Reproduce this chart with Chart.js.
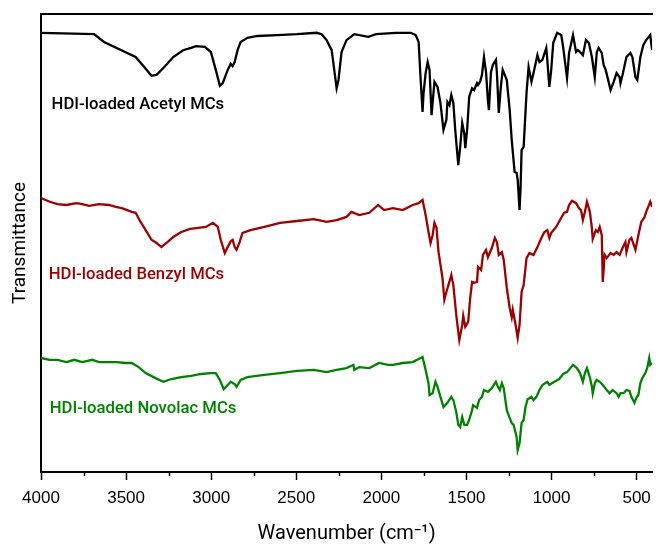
<!DOCTYPE html>
<html>
<head>
<meta charset="utf-8">
<script src="https://cdn.jsdelivr.net/npm/chart.js@4/dist/chart.umd.min.js"></script>
<style>
  html, body { margin: 0; padding: 0; background: #fff; }
  #wrap { width: 659px; height: 544px; }
</style>
</head>
<body>
<div id="wrap"><canvas id="chart" width="659" height="544"></canvas></div>
<script>
// FTIR spectra, wavenumber (cm-1) vs transmittance (arbitrary units, offset for stacking)
const acetylWn = [4000, 3688, 3630, 3444, 3397, 3351, 3321, 3281, 3223, 3165, 3118, 3089, 3037, 3002, 2973, 2949, 2932, 2903, 2885, 2874, 2862, 2845, 2827, 2787, 2728, 2612, 2496, 2380, 2351, 2322, 2292, 2263, 2252, 2234, 2205, 2159, 2077, 2031, 1914, 1827, 1798, 1781, 1769, 1758, 1752, 1740, 1728, 1717, 1705, 1699, 1688, 1670, 1653, 1635, 1618, 1612, 1600, 1589, 1577, 1566, 1548, 1537, 1525, 1513, 1507, 1496, 1484, 1467, 1455, 1438, 1432, 1420, 1409, 1397, 1385, 1374, 1368, 1356, 1345, 1327, 1321, 1310, 1298, 1287, 1275, 1263, 1246, 1234, 1217, 1205, 1199, 1188, 1182, 1176, 1164, 1147, 1135, 1118, 1106, 1083, 1071, 1054, 1031, 1025, 1013, 1002, 990, 967, 943, 932, 909, 897, 874, 856, 845, 827, 816, 798, 781, 763, 746, 734, 723, 705, 694, 682, 670, 653, 635, 618, 600, 595, 583, 560, 537, 525, 507, 496, 478, 461, 444, 420, 409];
const acetylT = [95.9, 95.6, 93.9, 90.6, 88.6, 86.5, 86.7, 88.2, 90.6, 92.1, 92.6, 93.0, 92.8, 91.7, 87.8, 84.3, 84.9, 87.8, 89.1, 88.6, 89.5, 92.1, 93.9, 94.8, 95.2, 95.4, 95.6, 95.9, 95.6, 94.3, 92.1, 83.8, 85.6, 91.7, 94.3, 95.6, 95.0, 95.6, 95.9, 95.9, 95.4, 93.9, 85.6, 78.6, 82.8, 87.1, 89.5, 87.8, 77.9, 80.6, 85.2, 84.1, 80.6, 74.7, 76.9, 80.8, 80.1, 82.3, 80.6, 74.7, 67.0, 71.0, 76.2, 74.0, 70.7, 74.7, 81.9, 83.8, 83.4, 84.9, 84.5, 85.2, 86.7, 90.6, 87.3, 81.2, 79.0, 87.3, 88.9, 90.0, 87.1, 78.4, 84.1, 87.8, 86.7, 85.6, 79.0, 72.5, 65.5, 65.3, 63.8, 57.2, 62.2, 70.3, 71.0, 82.8, 88.4, 85.2, 87.1, 91.0, 89.5, 90.0, 92.6, 90.0, 84.1, 87.8, 93.7, 95.9, 95.4, 92.8, 86.0, 91.5, 95.4, 91.7, 92.1, 91.5, 91.0, 94.3, 93.7, 90.6, 86.2, 91.7, 92.6, 91.5, 88.9, 87.8, 86.0, 83.4, 85.2, 87.1, 86.2, 84.9, 86.7, 90.6, 91.5, 90.6, 86.2, 85.6, 90.6, 93.2, 94.3, 95.4, 92.1];

const benzylWn = [4000, 3949, 3903, 3851, 3792, 3758, 3717, 3659, 3601, 3560, 3525, 3467, 3444, 3415, 3385, 3351, 3321, 3292, 3263, 3223, 3176, 3124, 3077, 3031, 2990, 2961, 2944, 2920, 2903, 2885, 2874, 2862, 2851, 2833, 2816, 2769, 2688, 2595, 2496, 2397, 2322, 2263, 2205, 2176, 2130, 2071, 2019, 1984, 1932, 1874, 1816, 1781, 1758, 1740, 1723, 1711, 1699, 1688, 1676, 1664, 1641, 1630, 1618, 1606, 1589, 1577, 1560, 1548, 1542, 1525, 1519, 1507, 1490, 1478, 1467, 1455, 1438, 1432, 1414, 1403, 1385, 1374, 1351, 1333, 1321, 1310, 1292, 1281, 1263, 1246, 1234, 1228, 1211, 1199, 1188, 1176, 1164, 1147, 1130, 1106, 1083, 1060, 1042, 1025, 1013, 1002, 973, 943, 926, 909, 897, 880, 856, 839, 827, 816, 804, 792, 775, 763, 758, 740, 728, 717, 705, 699, 688, 676, 653, 635, 618, 600, 583, 566, 560, 542, 531, 507, 490, 473, 455, 444, 420, 409];
const benzylT = [59.8, 59.0, 58.5, 58.3, 58.7, 58.5, 58.1, 58.5, 58.3, 57.9, 57.6, 56.8, 56.6, 54.6, 52.8, 50.7, 50.0, 49.1, 50.0, 51.3, 52.4, 53.1, 53.3, 53.5, 54.4, 53.5, 50.7, 47.8, 49.1, 50.4, 50.7, 49.1, 48.5, 50.2, 52.2, 52.8, 53.5, 54.4, 54.8, 55.2, 54.6, 55.0, 55.7, 56.8, 56.1, 56.6, 58.3, 57.2, 57.6, 57.2, 58.3, 58.7, 59.4, 56.1, 52.4, 50.0, 51.7, 54.4, 53.3, 48.0, 42.4, 37.6, 39.3, 40.8, 43.0, 40.8, 34.3, 30.6, 28.8, 32.1, 34.1, 31.7, 32.8, 38.0, 41.5, 41.3, 41.5, 44.8, 44.1, 47.4, 48.5, 46.9, 48.9, 51.1, 50.2, 47.4, 48.0, 46.3, 40.2, 35.8, 33.8, 35.4, 32.1, 29.3, 32.1, 39.3, 40.8, 46.7, 47.8, 47.4, 49.1, 51.1, 52.4, 52.8, 51.1, 52.2, 53.5, 55.5, 56.6, 56.8, 58.3, 59.2, 58.7, 57.6, 57.2, 55.0, 56.8, 59.0, 56.8, 53.3, 50.9, 52.8, 52.4, 53.5, 51.7, 41.5, 47.4, 46.7, 47.8, 47.4, 48.0, 47.4, 48.9, 50.2, 48.0, 50.7, 51.1, 48.5, 51.7, 54.6, 55.5, 56.8, 59.0, 57.9];

const novolacWn = [4000, 3949, 3903, 3851, 3804, 3758, 3699, 3659, 3601, 3554, 3502, 3467, 3426, 3385, 3327, 3281, 3234, 3176, 3118, 3060, 3002, 2973, 2949, 2926, 2903, 2885, 2862, 2851, 2827, 2787, 2688, 2595, 2496, 2397, 2322, 2263, 2205, 2164, 2159, 2130, 2071, 2013, 1961, 1932, 1874, 1816, 1758, 1740, 1723, 1717, 1699, 1682, 1670, 1653, 1635, 1612, 1589, 1577, 1560, 1548, 1537, 1525, 1513, 1496, 1484, 1467, 1461, 1438, 1426, 1409, 1397, 1374, 1351, 1327, 1315, 1304, 1292, 1281, 1263, 1246, 1234, 1223, 1205, 1199, 1188, 1176, 1164, 1153, 1141, 1118, 1106, 1089, 1071, 1054, 1025, 1013, 984, 955, 932, 909, 885, 874, 851, 833, 816, 804, 792, 775, 763, 758, 746, 734, 717, 699, 676, 659, 641, 618, 606, 595, 577, 560, 542, 531, 513, 502, 490, 478, 467, 449, 438, 426, 420, 409];
const novolacT = [24.9, 24.5, 24.5, 24.0, 24.5, 24.0, 24.5, 24.0, 24.0, 24.0, 23.8, 23.8, 22.9, 21.6, 20.5, 19.7, 20.3, 20.7, 21.0, 21.4, 21.6, 21.6, 20.1, 18.1, 19.0, 19.7, 19.2, 18.6, 20.1, 20.7, 21.2, 21.6, 22.1, 22.3, 21.8, 22.3, 22.7, 23.4, 22.3, 22.9, 22.7, 23.8, 23.4, 23.4, 23.8, 24.0, 25.1, 22.3, 19.4, 16.8, 17.2, 19.7, 18.6, 16.4, 14.2, 15.1, 16.4, 15.7, 13.1, 10.3, 9.8, 12.0, 10.3, 10.3, 11.4, 13.5, 14.6, 14.0, 15.7, 16.4, 17.9, 17.5, 18.3, 19.7, 18.6, 17.9, 19.4, 18.3, 13.5, 11.8, 10.7, 10.3, 7.6, 4.8, 6.3, 10.7, 11.4, 14.2, 15.9, 16.4, 15.7, 16.4, 17.9, 19.0, 19.7, 19.0, 19.7, 20.3, 21.4, 21.8, 22.9, 23.4, 22.7, 21.6, 19.7, 21.6, 22.7, 20.7, 18.6, 17.2, 19.4, 20.1, 19.7, 19.0, 17.9, 17.2, 17.9, 17.2, 16.4, 17.2, 17.2, 17.9, 17.7, 16.4, 15.1, 16.2, 16.8, 19.4, 20.5, 21.6, 22.7, 24.9, 23.4, 23.8];

const seriesNames = ['HDI-loaded Acetyl MCs', 'HDI-loaded Benzyl MCs', 'HDI-loaded Novolac MCs'];
const seriesColors = ['#000000', '#9a0000', '#008000'];
const xTickValues = [4000, 3750, 3500, 3250, 3000, 2750, 2500, 2250, 2000, 1750, 1500, 1250, 1000, 750, 500];

// where the sample names sit, in data units [wavenumber, transmittance]
const labelAnchors = [[3938, 80.1], [3955, 43.0], [3949, 13.8]];

const toPoints = (wn, t) => wn.map((x, i) => ({ x: x, y: t[i] }));
const spectra = [toPoints(acetylWn, acetylT), toPoints(benzylWn, benzylT), toPoints(novolacWn, novolacT)];

// minor ticks (every 250) shorter than majors, and the sample names
const extras = {
  id: 'extras',
  afterDraw(chart) {
    const ctx = chart.ctx;
    const xs = chart.scales.x;
    const ys = chart.scales.y;
    const bottom = chart.chartArea.bottom;
    ctx.save();
    ctx.strokeStyle = '#000';
    ctx.lineWidth = 1.5;
    xTickValues.forEach(v => {
      if (v % 500 === 0) return;
      const px = Math.round(xs.getPixelForValue(v)) + 0.5;
      ctx.beginPath();
      ctx.moveTo(px, bottom);
      ctx.lineTo(px, bottom + 4);
      ctx.stroke();
    });
    ctx.font = '500 16.7px Roboto';
    ctx.textBaseline = 'middle';
    ctx.textAlign = 'left';
    labelAnchors.forEach((a, i) => {
      ctx.fillStyle = seriesColors[i];
      ctx.fillText(seriesNames[i], xs.getPixelForValue(a[0]), ys.getPixelForValue(a[1]));
    });
    ctx.restore();
  }
};

new Chart(document.getElementById('chart'), {
  type: 'line',
  data: {
    datasets: spectra.map((d, i) => ({
      label: seriesNames[i],
      data: d,
      borderColor: seriesColors[i],
      borderWidth: 2.3,
      pointRadius: 0,
      tension: 0,
      fill: false
    }))
  },
  options: {
    responsive: false,
    animation: false,
    events: [],
    layout: { padding: 0 },
    plugins: {
      legend: { display: false },
      tooltip: { enabled: false }
    },
    scales: {
      x: {
        type: 'linear',
        position: 'bottom',
        reverse: true,
        min: 409,
        max: 4000,
        afterBuildTicks: scale => { scale.ticks = xTickValues.map(v => ({ value: v })); },
        afterFit: scale => { scale.height = 72; },
        grid: {
          display: true,
          drawOnChartArea: false,
          drawTicks: true,
          tickLength: 8,
          tickWidth: 1.5,
          tickColor: c => (c.tick && c.tick.value % 500 === 0) ? '#000' : 'rgba(0,0,0,0)'
        },
        border: { display: true, color: '#000', width: 2 },
        ticks: {
          autoSkip: false,
          maxRotation: 0,
          padding: 8,
          color: '#000',
          font: { family: '"Liberation Sans", Arial, sans-serif', size: 17 },
          callback: v => (v % 500 === 0 ? String(v) : '')
        },
        title: {
          display: true,
          text: 'Wavenumber (cm\u207B\u00B9)',
          color: '#000',
          font: { family: 'Roboto', size: 20, lineHeight: 1 },
          padding: { top: 0, bottom: 0 }
        }
      },
      xTop: {
        type: 'linear',
        position: 'top',
        min: 409,
        max: 4000,
        reverse: true,
        afterFit: scale => { scale.height = 14; },
        grid: { display: false },
        ticks: { display: false },
        border: { display: true, color: '#000', width: 2 }
      },
      y: {
        type: 'linear',
        min: 0,
        max: 100,
        afterFit: scale => { scale.width = 41; },
        grid: { display: false },
        ticks: { display: false },
        border: { display: true, color: '#000', width: 2 },
        title: {
          display: true,
          text: 'Transmittance',
          color: '#000',
          font: { family: 'Roboto', size: 19, lineHeight: 1.2 },
          padding: { top: 9, bottom: 0 }
        }
      }
    }
  },
  plugins: [extras]
});
</script>
</body>
</html>
